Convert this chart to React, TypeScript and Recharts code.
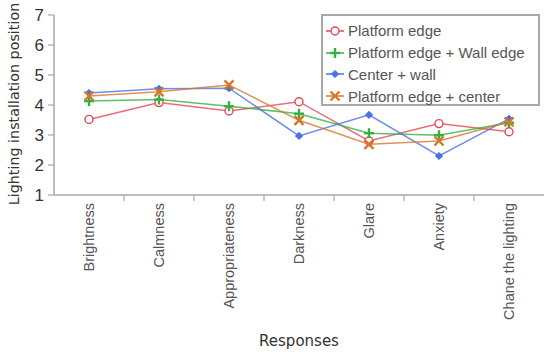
import { Legend, Line, LineChart, XAxis, YAxis } from "recharts";

const CATEGORIES = [
  "Brightness",
  "Calmness",
  "Appropriateness",
  "Darkness",
  "Glare",
  "Anxiety",
  "Chane the lighting",
];

const PLATFORM_EDGE = [3.52, 4.08, 3.8, 4.11, 2.8, 3.38, 3.11];
const PLATFORM_WALL = [4.13, 4.18, 3.96, 3.71, 3.06, 2.99, 3.41];
const CENTER_WALL = [4.4, 4.54, 4.56, 2.97, 3.67, 2.3, 3.54];
const PLATFORM_CENTER = [4.3, 4.44, 4.67, 3.49, 2.69, 2.8, 3.44];

const Y_TICKS = [1, 2, 3, 4, 5, 6, 7];

const SERIES = [
  { key: "pe", name: "Platform edge", color: "#e2485a", shape: "circle", values: PLATFORM_EDGE },
  { key: "pw", name: "Platform edge + Wall edge", color: "#36b040", shape: "plus", values: PLATFORM_WALL },
  { key: "cw", name: "Center + wall", color: "#4a70e6", shape: "diamond", values: CENTER_WALL },
  { key: "pc", name: "Platform edge + center", color: "#d5782c", shape: "cross", values: PLATFORM_CENTER },
];

const data = CATEGORIES.map((name, i) => {
  const row: Record<string, string | number> = { name };
  SERIES.forEach((s) => {
    row[s.key] = s.values[i];
  });
  return row;
});

const AXIS_GRAY = "#a8a8a8";
const FONT = "'Liberation Sans', Arial, sans-serif";

function Marker({ cx, cy, shape, color }: { cx: number; cy: number; shape: string; color: string }) {
  if (cx == null || cy == null) return null;
  if (shape === "circle") {
    return <circle cx={cx} cy={cy} r={4} fill="#fff" stroke={color} strokeWidth={1.4} />;
  }
  if (shape === "plus") {
    const a = 5;
    return (
      <g stroke={color} strokeWidth={2.4}>
        <line x1={cx - a} y1={cy} x2={cx + a} y2={cy} />
        <line x1={cx} y1={cy - a} x2={cx} y2={cy + a} />
      </g>
    );
  }
  if (shape === "diamond") {
    const a = 3.6;
    return (
      <path
        d={`M${cx},${cy - a}L${cx + a},${cy}L${cx},${cy + a}L${cx - a},${cy}Z`}
        fill={color}
        stroke={color}
        strokeWidth={1}
      />
    );
  }
  const a = 4.5;
  return (
    <g stroke={color} strokeWidth={2.4}>
      <line x1={cx - a} y1={cy - a} x2={cx + a} y2={cy + a} />
      <line x1={cx - a} y1={cy + a} x2={cx + a} y2={cy - a} />
    </g>
  );
}

function CategoryTick(props: any) {
  const { x, y, payload, index } = props;
  return (
    <g>
      {index > 0 && <line x1={x - 35} y1={y} x2={x - 35} y2={y + 6} stroke={AXIS_GRAY} strokeWidth={1.2} />}
      <g transform={`translate(${x},${y})`}>
        <text
          transform="rotate(-90)"
          x={-8}
          y={5}
          textAnchor="end"
          fontSize={14.5}
          fontFamily={FONT}
          fill="#555"
        >
          {payload.value}
        </text>
      </g>
    </g>
  );
}

function LegendBox() {
  return (
    <div
      style={{
        width: 219,
        height: 92,
        border: `2px solid ${AXIS_GRAY}`,
        background: "#fff",
        boxSizing: "border-box",
        paddingTop: 4,
      }}
    >
      {SERIES.map((s) => (
        <div key={s.key} style={{ display: "flex", alignItems: "center", height: 21.8 }}>
          <svg width={24} height={20} style={{ marginLeft: 1 }}>
            <line x1={2} y1={10} x2={20} y2={10} stroke={s.color} strokeWidth={1.5} />
            <Marker cx={11} cy={10} shape={s.shape} color={s.color} />
          </svg>
          <span style={{ fontFamily: FONT, fontSize: 15, color: "#555" }}>{s.name}</span>
        </div>
      ))}
    </div>
  );
}

export default function App() {
  return (
    <div style={{ position: "absolute", left: 0, top: 0, background: "#fff" }}>
      <LineChart width={550} height={352} data={data} margin={{ top: 15, right: 6, left: 0, bottom: 0 }}>
        <XAxis
          dataKey="name"
          height={157}
          padding={{ left: 35, right: 35 }}
          interval={0}
          tickLine={false}
          tickSize={0}
          tickMargin={0}
          tick={<CategoryTick />}
          axisLine={{ stroke: AXIS_GRAY, strokeWidth: 1.5 }}
          label={{
            value: "Responses",
            position: "insideBottom",
            offset: 6,
            fontSize: 15,
            fill: "#333",
            fontFamily: "'DejaVu Sans', sans-serif",
          }}
        />
        <XAxis
          xAxisId="top"
          dataKey="name"
          orientation="top"
          height={0}
          tick={false}
          tickLine={false}
          axisLine={{ stroke: AXIS_GRAY, strokeWidth: 1.5 }}
        />
        <YAxis
          domain={[1, 7]}
          ticks={Y_TICKS}
          width={54}
          tickSize={6}
          tickMargin={4}
          tickLine={{ stroke: AXIS_GRAY, strokeWidth: 1.2 }}
          axisLine={{ stroke: AXIS_GRAY, strokeWidth: 1.5 }}
          tick={{ fontSize: 17, fill: "#333", fontFamily: FONT }}
          label={{
            value: "Lighting installation position",
            angle: -90,
            position: "center",
            dx: -13,
            dy: -1,
            fontSize: 14.3,
            fill: "#333",
            fontFamily: "'DejaVu Sans', sans-serif",
          }}
        />
        <YAxis
          yAxisId="right"
          orientation="right"
          domain={[1, 7]}
          width={0}
          tick={false}
          tickLine={false}
          axisLine={{ stroke: AXIS_GRAY, strokeWidth: 1.5 }}
        />
        {SERIES.map((s) => (
          <Line
            key={s.key}
            dataKey={s.key}
            name={s.name}
            stroke={s.color}
            strokeOpacity={0.8}
            strokeWidth={1.5}
            isAnimationActive={false}
            dot={(p: any) => <Marker key={`${s.key}-${p.index}`} cx={p.cx} cy={p.cy} shape={s.shape} color={s.color} />}
            activeDot={false}
          />
        ))}
        <Legend
          layout="vertical"
          align="center"
          verticalAlign="middle"
          content={() => <LegendBox />}
          wrapperStyle={{ left: 321, top: 14, width: 219, height: 92 }}
        />
      </LineChart>
    </div>
  );
}
